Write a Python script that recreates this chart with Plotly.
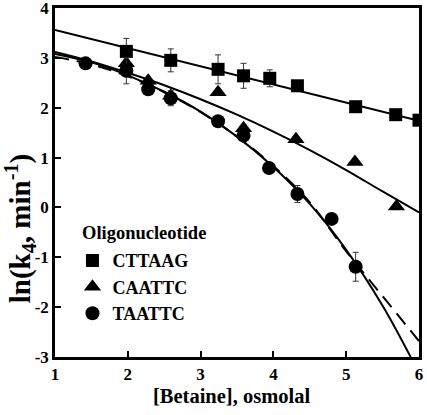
import plotly.graph_objects as go

# ---- data ----
betaine_sq = [1.98, 2.59, 3.24, 3.59, 3.95, 4.33, 5.13, 5.68, 6.0]
ln_sq = [3.13, 2.95, 2.77, 2.64, 2.59, 2.44, 2.02, 1.86, 1.75]
err_sq = [0.26, 0.23, 0.29, 0.25, 0.17, 0.09, 0.0, 0.08, 0.10]

betaine_tri = [1.98, 2.28, 2.59, 3.24, 3.59, 4.31, 5.12, 5.69]
ln_tri = [2.89, 2.54, 2.24, 2.31, 1.59, 1.37, 0.91, 0.02]

betaine_cir = [1.42, 1.98, 2.28, 2.59, 3.24, 3.59, 3.94, 4.33, 4.80, 5.13]
ln_cir = [2.89, 2.74, 2.37, 2.19, 1.73, 1.44, 0.79, 0.27, -0.23, -1.19]
err_cir = [0.0, 0.26, 0.0, 0.15, 0.0, 0.0, 0.0, 0.17, 0.0, 0.29]

# fitted curves
fit_sq_x = [1.0, 6.0]
fit_sq_y = [3.56, 1.74]
fit_tri_x = [1.0, 1.5, 2.0, 2.5, 3.0, 3.5, 4.0, 4.5, 5.0, 5.5, 6.0]
fit_tri_y = [3.12, 2.93, 2.70, 2.45, 2.17, 1.86, 1.52, 1.15, 0.75, 0.32, -0.10]
fit_cir_x = [1.0, 1.5, 2.0, 2.5, 3.0, 3.5, 4.0, 4.5, 5.0, 5.5, 5.9]
fit_cir_y = [3.08, 2.91, 2.65, 2.32, 1.92, 1.42, 0.81, 0.07, -0.85, -1.97, -3.04]
fit_cir2_x = [1.0, 1.5, 2.0, 2.5, 3.0, 3.5, 4.0, 4.5, 5.0, 5.5, 6.0]
fit_cir2_y = [3.02, 2.87, 2.63, 2.31, 1.91, 1.42, 0.83, 0.10, -0.88, -1.78, -2.68]

x_ticks = [1, 2, 3, 4, 5, 6]
x_ticklabels = ["1", "2", "3", "4", "5", "6"]
y_ticks = [-3, -2, -1, 0, 1, 2, 3, 4]
y_ticklabels = ["-3", "-2", "-1", "0", "1", "2", "3", "4"]

series_names = ["CTTAAG", "CAATTC", "TAATTC"]
legend_title = "Oligonucleotide"
x_title = "[Betaine], osmolal"
y_title = "ln(k<sub>4</sub>, min<sup>-1</sup>)"

FONT = "Liberation Serif, Times New Roman, serif"
fig = go.Figure()

fig.add_trace(go.Scatter(x=fit_sq_x, y=fit_sq_y, mode="lines",
                         line=dict(color="black", width=2),
                         showlegend=False, hoverinfo="skip"))
fig.add_trace(go.Scatter(x=fit_tri_x, y=fit_tri_y, mode="lines",
                         line=dict(color="black", width=2, shape="spline"),
                         showlegend=False, hoverinfo="skip"))
fig.add_trace(go.Scatter(x=fit_cir2_x, y=fit_cir2_y, mode="lines",
                         line=dict(color="black", width=2, shape="spline", dash="14px,8px"),
                         showlegend=False, hoverinfo="skip"))
fig.add_trace(go.Scatter(x=fit_cir_x, y=fit_cir_y, mode="lines",
                         line=dict(color="black", width=2, shape="spline"),
                         showlegend=False, hoverinfo="skip"))

eb = dict(color="#333333", thickness=1, width=3)
fig.add_trace(go.Scatter(x=betaine_sq, y=ln_sq, mode="markers",
                         name="<b>" + series_names[0] + "</b>",
                         marker=dict(symbol="square", size=13, color="black"),
                         error_y=dict(type="data", array=err_sq, **eb)))
fig.add_trace(go.Scatter(x=betaine_tri, y=ln_tri, mode="markers",
                         name="<b>" + series_names[1] + "</b>",
                         marker=dict(symbol="triangle-up", size=15, color="black")))
fig.add_trace(go.Scatter(x=betaine_cir, y=ln_cir, mode="markers",
                         name="<b>" + series_names[2] + "</b>",
                         marker=dict(symbol="circle", size=14, color="black"),
                         error_y=dict(type="data", array=err_cir, **eb)))

axis_common = dict(showgrid=False, zeroline=False, showline=True, linecolor="black",
                   linewidth=2.5, mirror=True, ticks="inside", ticklen=6, tickwidth=2,
                   tickcolor="black", automargin=False, ticklabeloverflow="allow",
                   tickfont=dict(family=FONT, size=17, color="black"))

fig.update_layout(
    width=427, height=415,
    margin=dict(l=55, r=7.5, t=8, b=58, autoexpand=False),
    paper_bgcolor="white", plot_bgcolor="white",
    font=dict(family=FONT, color="black"),
    xaxis=dict(range=[0.9999, 6.0001], tickmode="array", tickvals=x_ticks,
               ticktext=["<b>%s</b>" % t for t in x_ticklabels], **axis_common),
    yaxis=dict(range=[-3.0001, 4.0001], tickmode="array", tickvals=y_ticks,
               ticktext=["<b>%s</b>" % t for t in y_ticklabels], **axis_common),
    showlegend=True,
    legend=dict(x=0.048, y=0.329, xanchor="left", yanchor="top",
                bgcolor="rgba(0,0,0,0)",
                font=dict(family=FONT, size=18, color="black"),
                itemsizing="trace", tracegroupgap=0),
    annotations=[
        dict(text="<b>" + legend_title + "</b>", xref="paper", yref="paper",
             x=0.07, y=0.354, xanchor="left", yanchor="middle", showarrow=False,
             font=dict(family=FONT, size=18.5, color="black")),
        dict(text="<b>" + x_title + "</b>", xref="paper", yref="paper", x=0.486, y=-0.111,
             xanchor="center", yanchor="middle", showarrow=False,
             font=dict(family=FONT, size=20.5, color="black")),
        dict(text="<b>" + y_title + "</b>", xref="paper", yref="paper", x=-0.096, y=0.369,
             xanchor="center", yanchor="middle", showarrow=False, textangle=-90,
             font=dict(family=FONT, size=29, color="black")),
    ],
)

fig.write_html("out.html", config={"displayModeBar": False},
               post_script="document.body.style.margin='0';")
